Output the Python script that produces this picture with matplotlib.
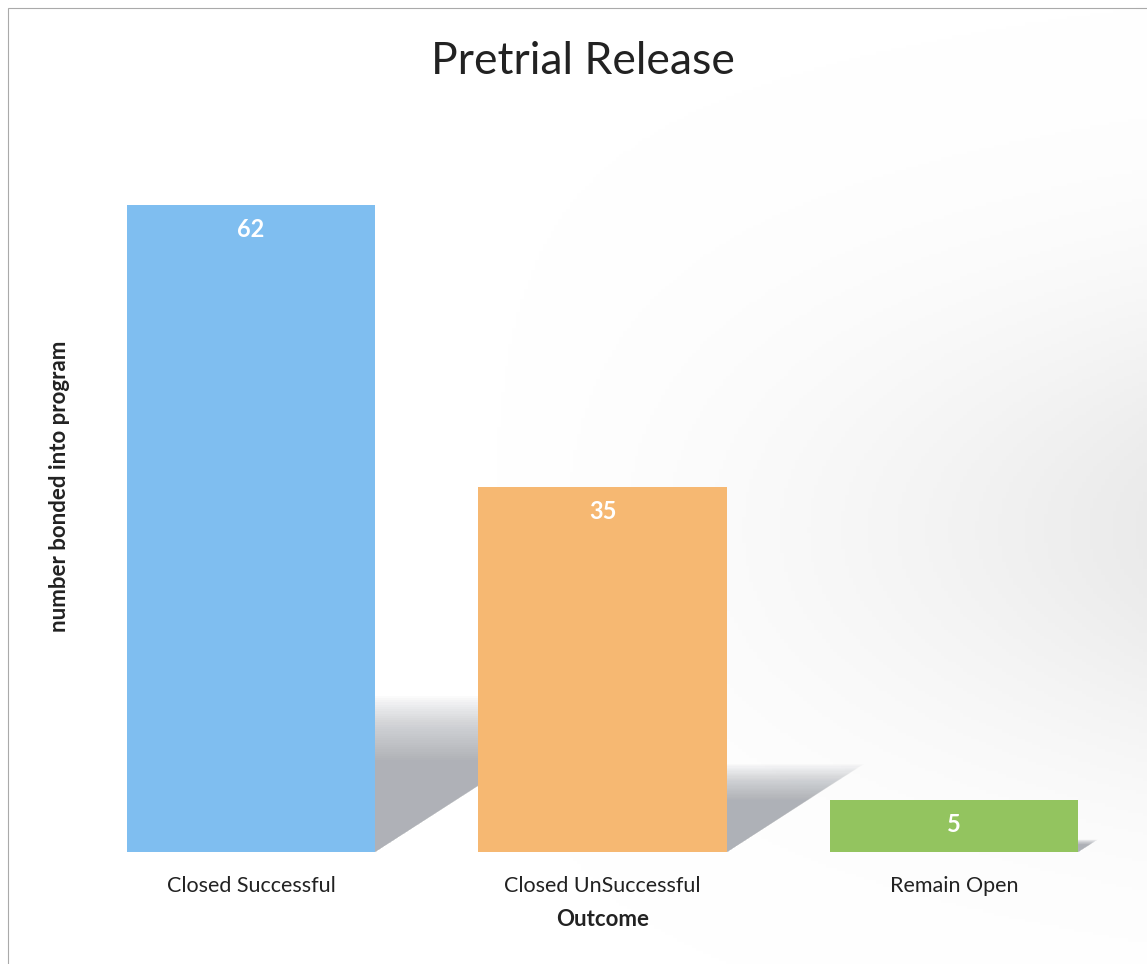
import matplotlib
matplotlib.use("Agg")
import matplotlib.pyplot as plt
from matplotlib.patches import Polygon, Rectangle
import numpy as np

plt.rcParams['font.family'] = ['Lato', 'DejaVu Sans']

categories = ["Closed Successful", "Closed UnSuccessful", "Remain Open"]
values = [62, 35, 5]
colors = ["#7fbef0", "#f6b872", "#93c45f"]

fig = plt.figure(figsize=(11.47, 9.64), dpi=100)

# faint grey backdrop over the whole figure, darker toward the right
bgax = fig.add_axes([0, 0, 1, 1], zorder=-1)
gx, gy = np.meshgrid(np.linspace(0, 1, 300), np.linspace(0, 1, 300))
shade = np.clip((gx - 0.4) / 0.6, 0, 1) ** 1.6 * np.exp(-((gy - 0.45) / 0.25) ** 2)
bg = np.ones((300, 300, 4))
bg[..., :3] = 0.82
bg[..., 3] = 0.45 * shade
bgax.imshow(bg, extent=[0, 1, 0, 1], origin="lower", aspect="auto")
bgax.set_axis_off()

ax = fig.add_axes([0.0658, 0.1162, 0.919, 0.758])
ax.patch.set_alpha(0)

x = np.arange(len(categories))
width = 0.707

# soft floor shadows cast to the right of each bar
for xi, v in zip(x, values):
    r = xi + width / 2
    h = 0.23 * v
    L = 0.0106 * v
    for k in range(30):
        s = 1.05 - k * 0.015
        poly = Polygon([(r, 0), (r, h * s), (r + L * s, h * s)],
                       closed=True, facecolor="#8e939b", edgecolor="none",
                       alpha=0.03, zorder=1)
        ax.add_patch(poly)

bars = ax.bar(x, values, width=width, color=colors, zorder=2)

for b, v in zip(bars, values):
    ax.text(b.get_x() + b.get_width() / 2, v - 1.3, str(v), ha="center", va="top",
            color="white", fontsize=17, fontweight="bold", zorder=3)

ax.set_xlim(-0.5, 2.5)
ax.set_ylim(0, 70)
ax.set_yticks([])
ax.set_xticks(x)
ax.set_xticklabels(categories, fontsize=15.5, color="#222222")
ax.tick_params(axis="x", length=0, pad=17)
for sp in ax.spines.values():
    sp.set_visible(False)

ax.set_xlabel("Outcome", fontsize=16, fontweight="bold", labelpad=10, color="#222222")
ax.set_ylabel("number bonded into program", fontsize=16, fontweight="bold",
              labelpad=4, color="#222222")
fig.text(0.508, 0.936, "Pretrial Release", ha="center", va="center",
         fontsize=32, color="#222222")

fig.patches.append(Rectangle((0.007, -0.01), 1.0, 1.002, transform=fig.transFigure,
                             fill=False, edgecolor="#aaaaaa", linewidth=0.8))

fig.savefig("out.png", dpi=100)
